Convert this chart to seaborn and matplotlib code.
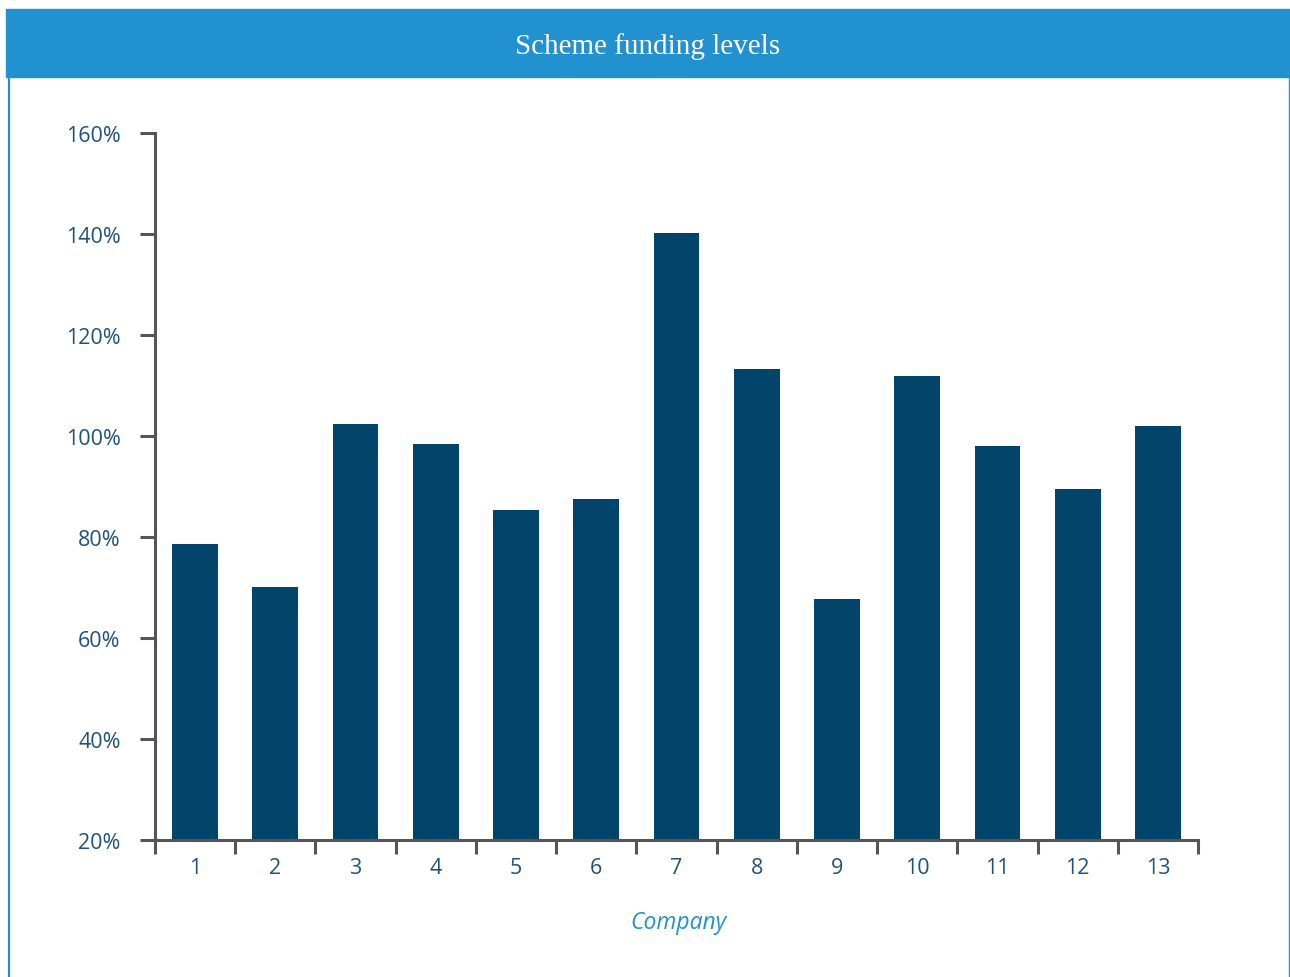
import numpy as np
import pandas as pd
import seaborn as sns
import matplotlib.pyplot as plt
from matplotlib.patches import Rectangle
from matplotlib.lines import Line2D
from matplotlib.ticker import FixedLocator

# data
companies = ["1", "2", "3", "4", "5", "6", "7", "8", "9", "10", "11", "12", "13"]
funding = [78.6, 70.1, 102.3, 98.4, 85.3, 87.5, 140.2, 113.2, 67.7, 111.9, 98.1, 89.6, 101.9]
yticks = [20, 40, 60, 80, 100, 120, 140, 160]

df = pd.DataFrame({"company": companies, "funding": funding})

sns.set_theme(style="white")
plt.rcParams['font.family'] = ['Open Sans', 'DejaVu Sans']

bar_col = "#03446a"
tick_col = "#1f527a"
spine_col = "#555555"
blue = "#2291d0"

fig = plt.figure(figsize=(12.9, 9.78), dpi=100)
ax = fig.add_axes([155 / 1290, 1 - 841 / 978, (1198 - 155) / 1290, (841 - 134) / 978])

sns.barplot(data=df, x="company", y="funding", color=bar_col, width=0.57,
            saturation=1, linewidth=0, ax=ax)

ax.set_xlim(-0.5, len(companies) - 0.5)
ax.set_ylim(20, 160)
ax.set_yticks(yticks)
ax.set_yticklabels([f"{v}%" for v in yticks])

# boundaries get the tick marks, labels sit at centres
ax.xaxis.set_major_locator(FixedLocator(np.arange(-0.5, len(companies), 1)))
ax.xaxis.set_minor_locator(FixedLocator(np.arange(len(companies))))
ax.set_xticklabels([], minor=False)
ax.set_xticklabels(companies, minor=True)
ax.tick_params(axis="x", which="major", direction="out", length=10, width=2.2,
               color=spine_col, bottom=True)
ax.tick_params(axis="x", which="minor", length=0, pad=12, labelsize=15.5,
               labelcolor=tick_col, bottom=True)
ax.tick_params(axis="y", direction="out", length=10.8, width=2.2, color=spine_col,
               pad=14, labelsize=15.5, labelcolor=tick_col, left=True)

for s in ["top", "right"]:
    ax.spines[s].set_visible(False)
for s in ["left", "bottom"]:
    ax.spines[s].set_color(spine_col)
    ax.spines[s].set_linewidth(2.2)

ax.set_xlabel("")
ax.set_ylabel("")
ax.grid(False)

# header band and frame
fig.patches.append(Rectangle((6 / 1290, 1 - 78 / 978), (1290 - 6) / 1290, 68 / 978,
                             transform=fig.transFigure, color=blue, zorder=0))
fig.lines.append(Line2D([8.5 / 1290, 8.5 / 1290], [0, 1 - 78 / 978],
                        transform=fig.transFigure, color=blue, lw=1.6))
fig.lines.append(Line2D([1289 / 1290, 1289 / 1290], [0, 1 - 78 / 978],
                        transform=fig.transFigure, color=blue, lw=1.0))

fig.text(648 / 1290, 1 - 47 / 978, "Scheme funding levels", color="white",
         ha="center", va="center", fontsize=21, family=["Liberation Serif", "DejaVu Serif"])
fig.text(678 / 1290, 1 - 923 / 978, "Company", color=blue, ha="center", va="center",
         fontsize=16.5, style="italic")

fig.savefig("out.png", dpi=100)
